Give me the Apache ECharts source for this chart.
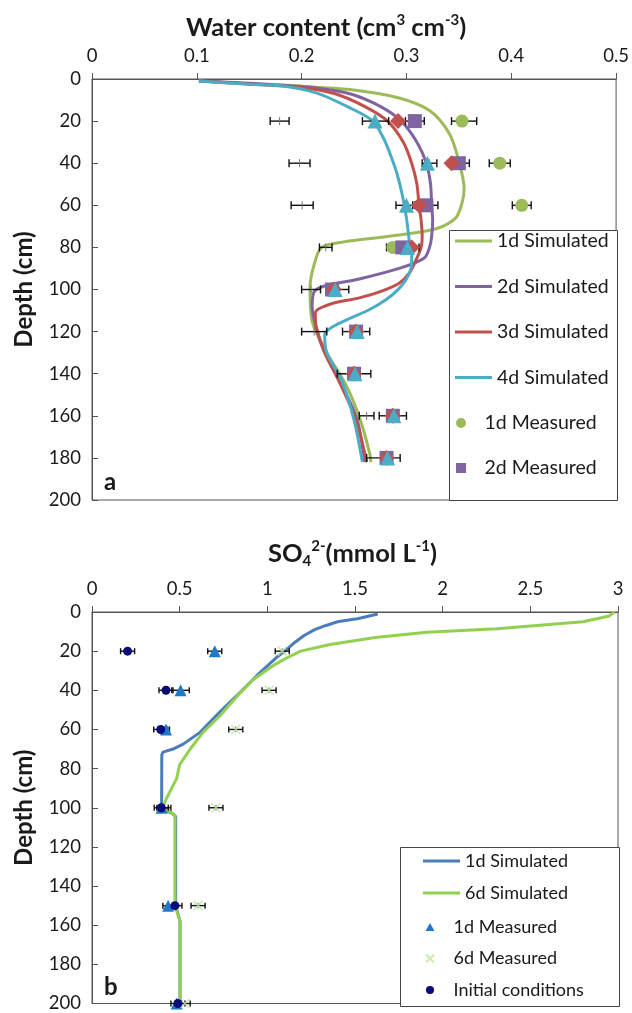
<!DOCTYPE html>
<html><head><meta charset="utf-8">
<script src="https://cdn.jsdelivr.net/npm/echarts@6.0.0/dist/echarts.min.js"></script>
<style>html,body{margin:0;padding:0;background:#fff}#c{width:632px;height:1013px}</style>
</head><body><div id="c"></div>
<script>
// ---------- Panel a: water content ----------
const wcTicks = [0, 0.1, 0.2, 0.3, 0.4, 0.5];
const depthTicks = [0, 20, 40, 60, 80, 100, 120, 140, 160, 180, 200];

const sim1dDepth = [1, 2.4, 3.5, 5, 9, 15, 26, 39, 52, 59, 66, 71, 74.5, 77.5, 80, 88, 99, 115, 130, 146, 162, 178, 182];
const sim1dWC    = [0.102, 0.15, 0.2, 0.246, 0.293, 0.322, 0.341, 0.350, 0.355, 0.353, 0.347, 0.329, 0.287, 0.239, 0.219, 0.212, 0.208, 0.21, 0.224, 0.243, 0.256, 0.265, 0.266];

const sim2dDepth = [1, 2.3, 4, 7, 13, 20, 30, 40, 50, 60, 67, 75, 80, 85, 89.5, 95, 98, 101, 108, 120, 130, 145, 162, 182];
const sim2dWC    = [0.102, 0.16, 0.21, 0.246, 0.275, 0.295, 0.31, 0.319, 0.323, 0.324, 0.325, 0.324, 0.322, 0.317, 0.296, 0.255, 0.224, 0.212, 0.21, 0.215, 0.222, 0.238, 0.253, 0.26];

const sim3dDepth = [1, 2.5, 4, 7, 13, 20, 30, 40, 50, 60, 67, 75, 80, 85, 92, 97, 101, 104, 107, 111, 118, 130, 145, 162, 182];
const sim3dWC    = [0.102, 0.155, 0.2, 0.232, 0.26, 0.282, 0.297, 0.305, 0.31, 0.312, 0.314, 0.315, 0.314, 0.31, 0.303, 0.293, 0.275, 0.255, 0.227, 0.213, 0.214, 0.222, 0.237, 0.252, 0.262];

const sim4dDepth = [1, 2.5, 3.3, 6.6, 13.7, 20, 28, 35, 45, 55, 66, 78, 83, 88, 95, 101, 105, 109.5, 114, 117.6, 121.5, 130, 143, 162, 182];
const sim4dWC    = [0.102, 0.15, 0.182, 0.214, 0.246, 0.268, 0.278, 0.284, 0.291, 0.296, 0.300, 0.303, 0.305, 0.305, 0.300, 0.29, 0.28, 0.265, 0.245, 0.23, 0.222, 0.224, 0.238, 0.25, 0.258];

const measDepth = [20, 40, 60, 80, 100, 120, 140, 160, 180];
const meas1dWC = [0.353, 0.389, 0.41, 0.287, 0.229, 0.252, 0.25, 0.287, 0.281];
const meas2dWC = [0.308, 0.350, 0.319, 0.296, 0.229, 0.252, 0.25, 0.287, 0.281];
const meas3dWC = [0.292, 0.343, 0.312, 0.305, 0.231, 0.252, 0.25, 0.287, 0.281];
const meas4dWC = [0.27, 0.32, 0.30, 0.301, 0.232, 0.253, 0.251, 0.288, 0.282];

// error bars: [centre, depth, half-width]
const wcErrCentre = [0.179, 0.2705, 0.308, 0.355, 0.198, 0.322, 0.35, 0.389, 0.2005, 0.298, 0.319, 0.41, 0.223, 0.288, 0.305, 0.209, 0.234, 0.212, 0.252, 0.25, 0.262, 0.287, 0.278];
const wcErrDepth  = [20, 20, 20, 20, 40, 40, 40, 40, 60, 60, 60, 60, 80, 80, 80, 100, 100, 120, 120, 140, 160, 160, 180];
const wcErrHalf   = [0.009, 0.0125, 0.009, 0.012, 0.01, 0.007, 0.01, 0.01, 0.0105, 0.008, 0.011, 0.009, 0.006, 0.007, 0.007, 0.009, 0.011, 0.012, 0.013, 0.016, 0.007, 0.013, 0.016];

// ---------- Panel b: sulphate ----------
const so4Ticks = [0, 0.5, 1, 1.5, 2, 2.5, 3];
const so4Sim1dDepth = [1, 3.3, 5, 7, 9, 12, 16, 20, 23, 31, 41, 51, 61.5, 67.5, 70, 71.6, 73, 100.5, 103, 104.5, 150, 158, 200];
const so4Sim1d      = [1.63, 1.52, 1.40, 1.33, 1.27, 1.21, 1.15, 1.10, 1.055, 0.958, 0.845, 0.73, 0.616, 0.52, 0.462, 0.405, 0.398, 0.397, 0.46, 0.477, 0.477, 0.502, 0.502];
const so4Sim6dDepth = [0, 2, 5, 8.6, 10.4, 13, 16.6, 20, 23.5, 27, 34.5, 43, 53, 61.5, 70, 78, 85, 95, 99.5, 104, 150, 158, 200];
const so4Sim6d      = [2.98, 2.95, 2.80, 2.31, 1.91, 1.615, 1.358, 1.19, 1.11, 1.04, 0.92, 0.827, 0.73, 0.633, 0.56, 0.50, 0.483, 0.426, 0.405, 0.473, 0.473, 0.502, 0.502];

const so4MeasDepth = [20, 40, 60, 100, 150, 200];
const so4Meas1d = [0.70, 0.505, 0.422, 0.397, 0.434, 0.483];
const so4Meas6d = [1.085, 1.01, 0.82, 0.707, 0.605, 0.53];
const so4Init   = [0.203, 0.422, 0.392, 0.395, 0.473, 0.49];

const so4ErrCentre = [0.203, 0.70, 1.085, 0.422, 0.505, 1.01, 0.392, 0.422, 0.82, 0.395, 0.41, 0.707, 0.473, 0.434, 0.605, 0.49, 0.53];
const so4ErrDepth  = [20, 20, 20, 40, 40, 40, 60, 60, 60, 100, 100, 100, 150, 150, 150, 200, 200];
const so4ErrHalf   = [0.04, 0.04, 0.04, 0.04, 0.05, 0.04, 0.04, 0.02, 0.04, 0.04, 0.04, 0.04, 0.04, 0.03, 0.04, 0.04, 0.03];

// ---------- helpers ----------
const zip = (xs, ys) => xs.map((x, i) => [x, ys[i]]);
const zip3 = (a, b, c) => a.map((x, i) => [x, b[i], c[i]]);

const FONT = 'Lato';
const TXT = '#1a1a1a';
const SQ = 'path://M0,0L10,0L10,10L0,10Z';
const TRI = 'path://M5,0L10,9L0,9Z';
const CROSS = 'path://M0,0L10,10M10,0L0,10';

function errRender(cap) {
  return function (params, api) {
    const x = api.value(0), y = api.value(1), e = api.value(2);
    const a = api.coord([x - e, y]), b = api.coord([x + e, y]), c = api.coord([x, y]);
    const st = { stroke: '#111', lineWidth: 1.4 };
    return { type: 'group', children: [
      { type: 'line', shape: { x1: a[0], y1: a[1], x2: b[0], y2: b[1] }, style: st },
      { type: 'line', shape: { x1: a[0], y1: a[1] - cap, x2: a[0], y2: a[1] + cap }, style: st },
      { type: 'line', shape: { x1: b[0], y1: b[1] - cap, x2: b[0], y2: b[1] + cap }, style: st },
      { type: 'line', shape: { x1: c[0], y1: c[1] - cap, x2: c[0], y2: c[1] + cap }, style: { stroke: '#777', lineWidth: 1 } }
    ]};
  };
}

const axisLabelStyle = { color: TXT, fontSize: 18.5, fontFamily: FONT };
function xAxisCfg(gi, min, max, interval) {
  return {
    type: 'value', gridIndex: gi, position: 'top', min: min, max: max, interval: interval,
    axisLine: { show: true, lineStyle: { color: '#555', width: 1 } },
    axisTick: { show: true, inside: false, length: 6, lineStyle: { color: '#555' } },
    axisLabel: Object.assign({ margin: 13, formatter: v => String(v) }, axisLabelStyle),
    splitLine: { show: false }
  };
}
function yAxisCfg(gi) {
  return {
    type: 'value', gridIndex: gi, inverse: true, min: depthTicks[0], max: depthTicks[depthTicks.length - 1],
    interval: depthTicks[1] - depthTicks[0],
    name: 'Depth (cm)', nameLocation: 'middle', nameGap: 56,
    nameTextStyle: { fontSize: 24, fontWeight: 'bold', fontFamily: FONT, color: TXT },
    axisLine: { show: true, lineStyle: { color: '#555', width: 1 } },
    axisTick: { show: true, inside: true, length: 6, lineStyle: { color: '#555' } },
    axisLabel: Object.assign({ margin: 11 }, axisLabelStyle),
    splitLine: { show: false }
  };
}

const C = { g: '#9BBB59', p: '#8064A2', r: '#C0504D', c: '#4BACC6', b: '#4A7EBB', lg: '#92D050', tri: '#1F78C8', navy: '#0A0A78', x: '#BFE3A0' };

function simLine(name, data, color, xi, smooth) {
  return { name: name, type: 'line', xAxisIndex: xi, yAxisIndex: xi, data: data, symbol: 'none',
    smooth: smooth, lineStyle: { color: color, width: 3 }, itemStyle: { color: color }, z: 2 };
}
function meas(name, data, color, symbol, size, xi, extra) {
  return Object.assign({ name: name, type: 'scatter', xAxisIndex: xi, yAxisIndex: xi, data: data,
    symbol: symbol, symbolSize: size, itemStyle: { color: color, opacity: 1 }, z: 4 }, extra || {});
}

const titleRich = {
  t: { fontSize: 25.5, fontWeight: 'bold', fontFamily: FONT, color: TXT, lineHeight: 30 },
  sup: { fontSize: 15, fontWeight: 'bold', fontFamily: FONT, color: TXT, verticalAlign: 'top', lineHeight: 30 },
  sub: { fontSize: 15, fontWeight: 'bold', fontFamily: FONT, color: TXT, verticalAlign: 'bottom', lineHeight: 30 }
};

const legendText = { fontSize: 19.5, fontFamily: FONT, color: TXT, lineHeight: 20 };
const legendTextB = { fontSize: 18, fontFamily: FONT, color: TXT, lineHeight: 20 };
const stripB = n => n.replace(/^b:/, '');

const option = {
  animation: false,
  backgroundColor: '#fff',
  textStyle: { fontFamily: FONT },
  title: [
    { text: '{t|Water content (cm}{sup|3}{t| cm}{sup|-3}{t|)}', left: 186, top: 13, padding: 0,
      textStyle: { rich: titleRich } },
    { text: '{t|SO}{sub|4}{sup|2-}{t|(mmol L}{sup|-1}{t|)}', left: 268, top: 539, padding: 0,
      textStyle: { rich: titleRich } }
  ],
  grid: [
    { left: 92, right: 15, top: 79, height: 421, show: true, borderColor: '#555', borderWidth: 1, backgroundColor: 'transparent' },
    { left: 92, right: 14, top: 612, height: 394, show: true, borderColor: '#555', borderWidth: 1, backgroundColor: 'transparent' }
  ],
  xAxis: [
    xAxisCfg(0, wcTicks[0], wcTicks[wcTicks.length - 1], wcTicks[1] - wcTicks[0]),
    xAxisCfg(1, so4Ticks[0], so4Ticks[so4Ticks.length - 1], so4Ticks[1] - so4Ticks[0])
  ],
  yAxis: [yAxisCfg(0), yAxisCfg(1)],
  legend: [
    { data: ['1d Simulated', '2d Simulated', '3d Simulated', '4d Simulated'], orient: 'vertical',
      left: 455, top: 231, padding: 0, itemWidth: 37, itemHeight: 3, itemGap: 25.5, icon: 'rect',
      symbolKeepAspect: false, textStyle: legendText, selectedMode: false },
    { data: [{ name: '1d Measured', icon: 'circle' }, { name: '2d Measured', icon: SQ }], orient: 'vertical',
      left: 456, top: 413, padding: 0, itemWidth: 37, itemHeight: 10, itemGap: 25, symbolKeepAspect: true,
      textStyle: legendText, selectedMode: false },
    { data: ['b:1d Simulated', 'b:6d Simulated'], orient: 'vertical', formatter: stripB,
      left: 423, top: 851, padding: 0, itemWidth: 37, itemHeight: 3, itemGap: 12, icon: 'rect',
      symbolKeepAspect: false, textStyle: legendTextB, selectedMode: false },
    { data: [{ name: 'b:1d Measured', icon: TRI }, { name: 'b:6d Measured', icon: CROSS }, { name: 'b:Initial conditions', icon: 'circle' }],
      orient: 'vertical', formatter: stripB,
      left: 425, top: 917, padding: 0, itemWidth: 37, itemHeight: 8, itemGap: 11.5, symbolKeepAspect: true,
      textStyle: legendTextB, selectedMode: false }
  ],
  graphic: [
    { type: 'rect', left: 449, top: 230, shape: { width: 168, height: 270 }, style: { fill: '#fff', stroke: '#444', lineWidth: 1 }, z: 3 },
    { type: 'rect', left: 400, top: 847, shape: { width: 219, height: 159 }, style: { fill: '#fff', stroke: '#444', lineWidth: 1 }, z: 3 },
    { type: 'text', left: 104, top: 470, style: { text: 'a', fontSize: 24, fontWeight: 'bold', fontFamily: FONT, fill: TXT }, z: 5 },
    { type: 'text', left: 104, top: 975, style: { text: 'b', fontSize: 24, fontWeight: 'bold', fontFamily: FONT, fill: TXT }, z: 5 }
  ],
  series: [
    simLine('1d Simulated', zip(sim1dWC, sim1dDepth), C.g, 0, 0.3),
    simLine('2d Simulated', zip(sim2dWC, sim2dDepth), C.p, 0, 0.3),
    simLine('3d Simulated', zip(sim3dWC, sim3dDepth), C.r, 0, 0.3),
    simLine('4d Simulated', zip(sim4dWC, sim4dDepth), C.c, 0, 0.3),
    { name: 'errA', type: 'custom', xAxisIndex: 0, yAxisIndex: 0, renderItem: errRender(4),
      data: zip3(wcErrCentre, wcErrDepth, wcErrHalf), encode: { x: 0, y: 1 }, z: 3, silent: true },
    meas('1d Measured', zip(meas1dWC, measDepth), C.g, 'circle', 13, 0),
    meas('2d Measured', zip(meas2dWC, measDepth), C.p, 'rect', 14, 0),
    meas('3d Measured', zip(meas3dWC, measDepth), C.r, 'diamond', 16, 0),
    meas('4d Measured', zip(meas4dWC, measDepth), C.c, 'triangle', 15, 0),

    simLine('b:1d Simulated', zip(so4Sim1d, so4Sim1dDepth), C.b, 1, false),
    simLine('b:6d Simulated', zip(so4Sim6d, so4Sim6dDepth), C.lg, 1, false),
    { name: 'errB', type: 'custom', xAxisIndex: 1, yAxisIndex: 1, renderItem: errRender(3),
      data: zip3(so4ErrCentre, so4ErrDepth, so4ErrHalf), encode: { x: 0, y: 1 }, z: 3, silent: true },
    meas('b:1d Measured', zip(so4Meas1d, so4MeasDepth), C.tri, 'triangle', 12, 1),
    meas('b:6d Measured', zip(so4Meas6d, so4MeasDepth), C.x, CROSS, 9, 1,
      { itemStyle: { color: 'rgba(0,0,0,0)', borderColor: C.x, borderWidth: 1.5 } }),
    meas('b:Initial conditions', zip(so4Init, so4MeasDepth), C.navy, 'circle', 9, 1)
  ]
};

const chart = echarts.init(document.getElementById('c'), null, { renderer: 'canvas' });
chart.setOption(option);
</script></body></html>
